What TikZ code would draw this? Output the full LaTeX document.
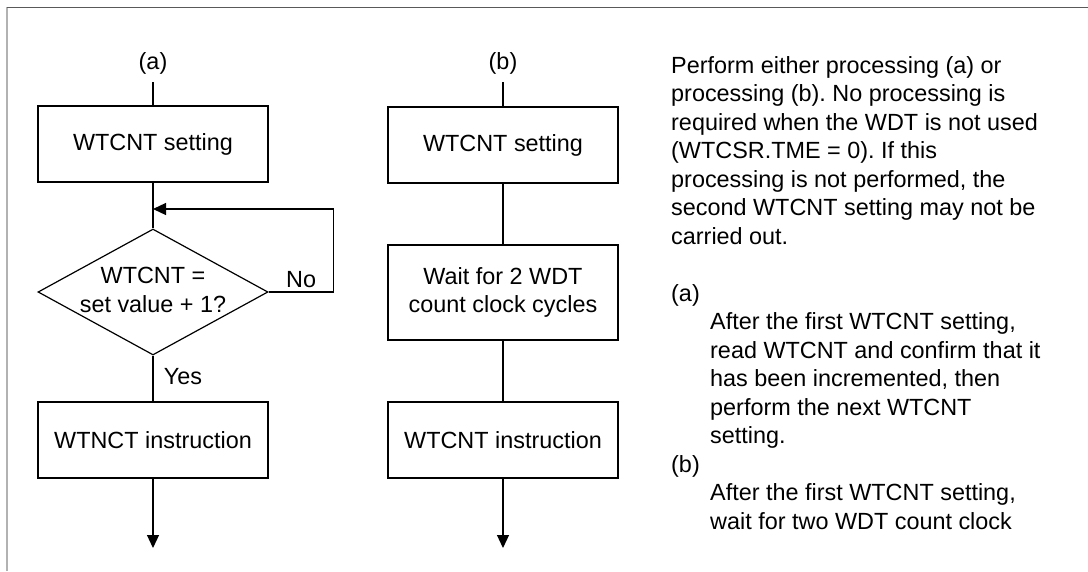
\documentclass[tikz,border=0pt]{standalone}
\usepackage{fontspec}
\setmainfont{Liberation Sans}
\usetikzlibrary{arrows.meta,positioning,shapes.geometric}
\frenchspacing

\tikzset{
  stepbox/.style={draw, line width=1.2pt, minimum width=230pt, inner sep=0pt, align=center},
  cond/.style={draw, diamond, line width=1.2pt, minimum width=230pt, minimum height=126pt, inner sep=0pt},
  flow/.style={line width=1.2pt},
  flowarr/.style={line width=1.2pt, -{Triangle[length=13pt,width=12pt]}},
  tag/.style={inner sep=8pt}
}

\begin{document}
\begin{tikzpicture}[x=1pt, y=-1pt, font=\fontsize{23.4pt}{28.5pt}\selectfont]
\useasboundingbox (0,0) rectangle (1088,571);
% frame
\draw[black!30, line width=2pt] (7,571) -- (7,7);
\draw[black!65, line width=1pt] (7,7) -- (1088,7);
% processing (a)
\node[tag] (la) at (153,63) {(a)};
\node[stepbox, minimum height=76pt] (sa) at (153,144) {WTCNT setting};
\node[cond] (da) at (153,292) {};
\node[align=center] (qa) at (153,290) {WTCNT =\\set value + 1?};
\node[stepbox, minimum height=76pt] (ia) at (153,440) {WTNCT instruction};
\coordinate (ja) at (153,209);
\coordinate (ea) at (153,548);
\draw[flow] (la) -- (sa);
\draw[flow] (sa) -- (da);
\draw[flowarr] (da.east) -- node[above] {No} ++(65,0) |- (ja);
\draw[flow] (da.south) -- node[right=7pt, pos=0.45] {Yes} (ia);
\draw[flowarr] (ia) -- (ea);
% processing (b)
\node[tag] (lb) at (503,63) {(b)};
\node[stepbox, minimum height=76pt] (sb) at (503,145) {WTCNT setting};
\node[stepbox, minimum height=95pt] (wb) at (503,292.5) {Wait for 2 WDT\\count clock cycles};
\node[stepbox, minimum height=76pt] (ib) at (503,440) {WTCNT instruction};
\coordinate (eb) at (503,548);
\draw[flow] (lb) -- (sb);
\draw[flow] (sb) -- (wb);
\draw[flow] (wb) -- (ib);
\draw[flowarr] (ib) -- (eb);
% notes
\node[anchor=north west, align=left, inner sep=0pt] (note) at (671,56) {Perform either processing (a) or\\
processing (b). No processing is\\
required when the WDT is not used\\
(WTCSR.TME = 0). If this\\
processing is not performed, the\\
second WTCNT setting may not be\\
carried out.\\[28.5pt]
(a)\\
\hspace*{39pt}After the first WTCNT setting,\\
\hspace*{39pt}read WTCNT and confirm that it\\
\hspace*{39pt}has been incremented, then\\
\hspace*{39pt}perform the next WTCNT\\
\hspace*{39pt}setting.\\
(b)\\
\hspace*{39pt}After the first WTCNT setting,\\
\hspace*{39pt}wait for two WDT count clock};
\end{tikzpicture}
\end{document}
